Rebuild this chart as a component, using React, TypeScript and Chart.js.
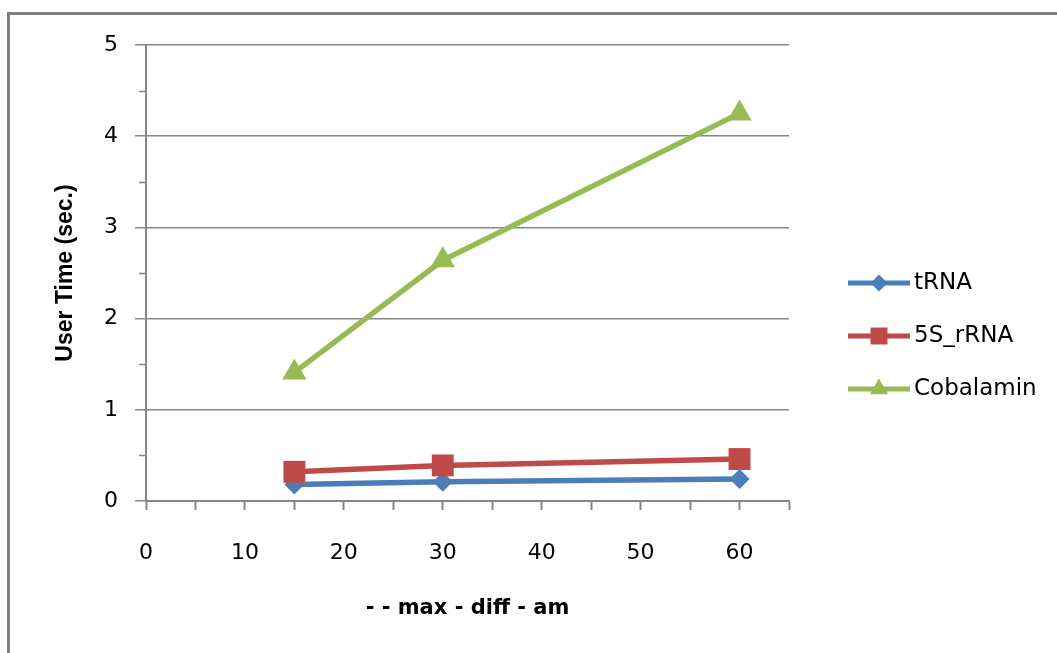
import React, { useEffect, useRef } from 'react';
import { Chart, registerables } from 'chart.js';
import { drawPoint } from 'chart.js/helpers';

Chart.register(...registerables);

// ---- data ----
const xValues = [15, 30, 60];
const seriesNames = ['tRNA', '5S_rRNA', 'Cobalamin'];
const tRNA = [0.18, 0.21, 0.24];
const rRNA5S = [0.32, 0.39, 0.46];
const cobalamin = [1.41, 2.64, 4.25];
const xTickLabels = [0, 10, 20, 30, 40, 50, 60];
const yTickLabels = [0, 1, 2, 3, 4, 5];
const xTitle = '- - max - diff - am';
const yTitle = 'User Time (sec.)';

const colors = ['#4A7EBB', '#BE4B48', '#98B954'];
const pointStyles = ['rectRot', 'rect', 'triangle'];
const pointRadii = [10, 15.5, 14];
const legendRadii = [8.5, 12, 10.5];
const axisGray = '#868686';

const sideLegend = {
  id: 'sideLegend',
  afterDraw(chart: any) {
    const ctx = chart.ctx;
    const x0 = chart.chartArea.right + 59;
    chart.data.datasets.forEach((ds: any, i: number) => {
      const y = 283 + i * 53;
      ctx.save();
      ctx.strokeStyle = ds.borderColor;
      ctx.lineWidth = 5;
      ctx.beginPath();
      ctx.moveTo(x0, y);
      ctx.lineTo(x0 + 62, y);
      ctx.stroke();
      ctx.fillStyle = ds.borderColor;
      drawPoint(ctx, { pointStyle: ds.pointStyle, radius: legendRadii[i], rotation: 0, borderWidth: 0 }, x0 + 31, y);
      ctx.fillStyle = '#000';
      ctx.font = '23px "DejaVu Sans"';
      ctx.textBaseline = 'middle';
      ctx.textAlign = 'left';
      ctx.fillText(ds.label, x0 + 66, y);
      ctx.restore();
    });
  },
};

// short minor tick marks on the y axis (half-unit positions)
const minorTicks = {
  id: 'minorTicks',
  afterDraw(chart: any) {
    const ys = chart.scales.y;
    const ctx = chart.ctx;
    ctx.save();
    ctx.strokeStyle = axisGray;
    ctx.lineWidth = 1.5;
    ys.ticks.forEach((t: any) => {
      if (Number.isInteger(t.value)) return;
      const py = Math.round(ys.getPixelForValue(t.value)) + 0.5;
      ctx.beginPath();
      ctx.moveTo(ys.right - 7, py);
      ctx.lineTo(ys.right, py);
      ctx.stroke();
    });
    ctx.restore();
  },
};

function App() {
  const canvasRef = useRef<HTMLCanvasElement | null>(null);

  useEffect(() => {
    const seriesValues = [tRNA, rRNA5S, cobalamin];
    const chart = new Chart(canvasRef.current as HTMLCanvasElement, {
      type: 'line',
      data: {
        datasets: seriesNames.map((name, i) => ({
          label: name,
          data: xValues.map((x, j) => ({ x, y: seriesValues[i][j] })),
          borderColor: colors[i],
          backgroundColor: colors[i],
          pointBackgroundColor: colors[i],
          pointBorderColor: colors[i],
          pointBorderWidth: 0,
          pointStyle: pointStyles[i],
          pointRadius: pointRadii[i],
          borderWidth: 5.5,
          tension: 0,
          fill: false,
          order: 3 - i,
        })),
      },
      options: {
        animation: false,
        responsive: true,
        maintainAspectRatio: false,
        layout: { padding: { left: 0, top: 45, right: 268, bottom: 0 } },
        plugins: {
          legend: { display: false },
          tooltip: { enabled: false },
        },
        scales: {
          x: {
            type: 'linear',
            min: 0,
            max: 65,
            afterFit: (s: any) => { s.height = 152; },
            ticks: {
              stepSize: 5,
              autoSkip: false,
              maxRotation: 0,
              padding: 30,
              color: '#000',
              font: { family: 'DejaVu Sans', size: 22 },
              callback: (v: any) => (xTickLabels.includes(Number(v)) ? String(v) : ''),
            },
            grid: {
              drawOnChartArea: false,
              drawTicks: true,
              tickLength: 9,
              tickColor: axisGray,
              tickWidth: 2,
              color: axisGray,
            },
            border: { display: true, color: axisGray, width: 2 },
            title: {
              display: true,
              text: xTitle,
              color: '#000',
              font: { family: 'DejaVu Sans', size: 21, weight: 'bold' },
              padding: { top: 0, bottom: 32 },
            },
          },
          y: {
            type: 'linear',
            min: 0,
            max: 5,
            afterFit: (s: any) => { s.width = 146; },
            ticks: {
              stepSize: 0.5,
              autoSkip: false,
              padding: 17,
              color: '#000',
              font: { family: 'DejaVu Sans', size: 22 },
              callback: (v: any) => (yTickLabels.includes(Number(v)) ? String(v) : ''),
            },
            grid: {
              drawTicks: true,
              tickLength: 11,
              color: (c: any) => (c.tick && Number.isInteger(c.tick.value) ? axisGray : 'rgba(0,0,0,0)'),
              tickColor: (c: any) => (c.tick && Number.isInteger(c.tick.value) ? axisGray : 'rgba(0,0,0,0)'),
              lineWidth: 1.5,
            },
            border: { display: true, color: axisGray, width: 2 },
            title: {
              display: true,
              text: yTitle,
              color: '#000',
              font: { family: 'Liberation Sans', size: 23, weight: 'bold' },
              padding: { top: 52, bottom: 0 },
            },
          },
        },
      },
      plugins: [minorTicks, sideLegend],
    } as any);
    return () => chart.destroy();
  }, []);

  return (
    <div style={{ position: 'fixed', left: 0, top: 0, width: 1057, height: 653, background: '#fff', overflow: 'hidden' }}>
      <div
        style={{
          position: 'absolute',
          left: 7,
          top: 12,
          width: 1080,
          height: 680,
          borderLeft: '3px solid #808080',
          borderTop: '3px solid #808080',
        }}
      />
      <div style={{ position: 'absolute', left: 0, top: 0, width: 1057, height: 653 }}>
        <canvas ref={canvasRef} />
      </div>
    </div>
  );
}

export default App;
